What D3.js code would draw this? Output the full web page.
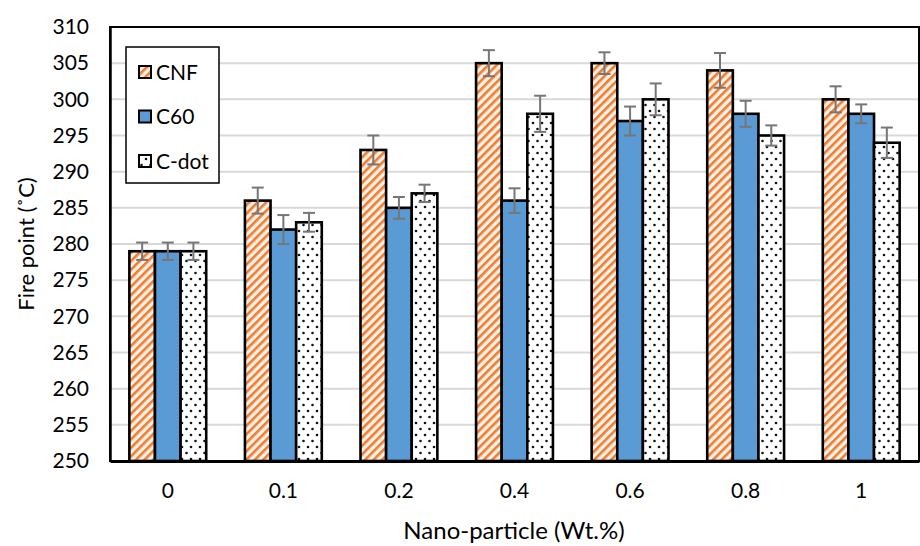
<!DOCTYPE html>
<html>
<head>
<meta charset="utf-8">
<script src="https://cdn.jsdelivr.net/npm/d3@7"></script>
<style>
  html, body { margin: 0; padding: 0; background: #fff; }
  svg { display: block; font-family: Lato, "Open Sans", sans-serif; }
</style>
</head>
<body>
<svg id="chart" width="920" height="546"></svg>
<script>
// Fire point of the base fluid with three nano-particle additives
const categories = ["0", "0.1", "0.2", "0.4", "0.6", "0.8", "1"];
const seriesNames = ["CNF", "C60", "C-dot"];
const cnfValues  = [279, 286, 293, 305, 305, 304, 300];
const c60Values  = [279, 282, 285, 286, 297, 298, 298];
const cdotValues = [279, 283, 287, 298, 300, 295, 294];
const cnfErrors  = [1.2, 1.8, 2.0, 1.8, 1.5, 2.4, 1.8];
const c60Errors  = [1.2, 2.0, 1.5, 1.7, 2.0, 1.8, 1.3];
const cdotErrors = [1.2, 1.3, 1.2, 2.5, 2.2, 1.4, 2.1];
const yTicks = [250, 255, 260, 265, 270, 275, 280, 285, 290, 295, 300, 305, 310];

const svg = d3.select("#chart");
const margin = { left: 110, right: 1, top: 27, bottom: 85 };
const W = 920, H = 546;
const x0 = d3.scaleBand().domain(categories).range([margin.left, W - margin.right]).paddingInner(0.335).paddingOuter(0.1675);
const x1 = d3.scaleBand().domain(seriesNames).range([0, x0.bandwidth()]);
const y = d3.scaleLinear().domain([250, 310]).range([H - margin.bottom, margin.top]);

// fill patterns
const defs = svg.append("defs");
const stripe = defs.append("pattern").attr("id", "stripes").attr("patternUnits", "userSpaceOnUse")
  .attr("width", 6).attr("height", 6).attr("patternTransform", "rotate(45)");
stripe.append("rect").attr("width", 6).attr("height", 6).attr("fill", "#fdf0e6");
stripe.append("rect").attr("width", 2.6).attr("height", 6).attr("fill", "#ed7d31");

const dots = defs.append("pattern").attr("id", "dots").attr("patternUnits", "userSpaceOnUse")
  .attr("width", 9).attr("height", 12);
dots.append("rect").attr("width", 9).attr("height", 12).attr("fill", "#fff");
dots.append("circle").attr("cx", 2).attr("cy", 3).attr("r", 1.3).attr("fill", "#111");
dots.append("circle").attr("cx", 6.5).attr("cy", 9).attr("r", 1.3).attr("fill", "#111");

const fills = { "CNF": "url(#stripes)", "C60": "#5b9bd5", "C-dot": "url(#dots)" };
const valuesBy = { "CNF": cnfValues, "C60": c60Values, "C-dot": cdotValues };
const errorsBy = { "CNF": cnfErrors, "C60": c60Errors, "C-dot": cdotErrors };

// gridlines
svg.append("g").selectAll("line").data(yTicks.filter(t => t > 250 && t < 310)).join("line")
  .attr("x1", margin.left).attr("x2", W - margin.right)
  .attr("y1", d => y(d)).attr("y2", d => y(d))
  .attr("stroke", "#d9d9d9").attr("stroke-width", 2);

// bars
const rows = [];
categories.forEach((c, i) => seriesNames.forEach(s => rows.push({ c, s, v: valuesBy[s][i], e: errorsBy[s][i] })));

svg.append("g").selectAll("rect").data(rows).join("rect")
  .attr("x", d => x0(d.c) + x1(d.s))
  .attr("y", d => y(d.v))
  .attr("width", x1.bandwidth())
  .attr("height", d => y(250) - y(d.v))
  .attr("fill", d => fills[d.s])
  .attr("stroke", "#000").attr("stroke-width", 2.6);

// error bars
const eb = svg.append("g").attr("stroke", "#767676").attr("stroke-width", 2);
rows.forEach(d => {
  const cx = x0(d.c) + x1(d.s) + x1.bandwidth() / 2;
  eb.append("line").attr("x1", cx).attr("x2", cx).attr("y1", y(d.v + d.e)).attr("y2", y(d.v - d.e));
  eb.append("line").attr("x1", cx - 6).attr("x2", cx + 6).attr("y1", y(d.v + d.e)).attr("y2", y(d.v + d.e));
  eb.append("line").attr("x1", cx - 6).attr("x2", cx + 6).attr("y1", y(d.v - d.e)).attr("y2", y(d.v - d.e));
});

// frame
svg.append("rect").attr("x", margin.left).attr("y", margin.top)
  .attr("width", W - margin.right - margin.left).attr("height", y(250) - margin.top)
  .attr("fill", "none").attr("stroke", "#000").attr("stroke-width", 2);

// axes
const yAxis = svg.append("g").attr("transform", `translate(${margin.left},0)`)
  .call(d3.axisLeft(y).tickValues(yTicks).tickSize(0).tickPadding(21));
yAxis.select(".domain").attr("stroke", "#000").attr("stroke-width", 2.5);
yAxis.selectAll("text").attr("font-size", 21).attr("fill", "#000").attr("font-family", "Lato");

const xAxis = svg.append("g").attr("transform", `translate(0,${y(250)})`)
  .call(d3.axisBottom(x0).tickSize(0).tickPadding(22));
xAxis.select(".domain").attr("stroke", "#000").attr("stroke-width", 3);
xAxis.selectAll("text").attr("font-size", 21).attr("fill", "#000").attr("font-family", "Lato");

// axis titles
svg.append("text").attr("x", 514).attr("y", 539)
  .attr("text-anchor", "middle").attr("font-size", 24).text("Nano-particle (Wt.%)");
svg.append("text").attr("transform", `translate(34,${(margin.top + y(250)) / 2}) rotate(-90)`)
  .attr("text-anchor", "middle").attr("font-size", 22).text("Fire point (˚C)");

// legend
const lg = svg.append("g");
lg.append("rect").attr("x", 126).attr("y", 47).attr("width", 93).attr("height", 136)
  .attr("fill", "#fff").attr("stroke", "#000").attr("stroke-width", 1.5);
seriesNames.forEach((s, i) => {
  const yy = 72 + i * 44.5;
  lg.append("rect").attr("x", 139).attr("y", yy - 6).attr("width", 12).attr("height", 12)
    .attr("fill", fills[s]).attr("stroke", "#000").attr("stroke-width", 2);
  lg.append("text").attr("x", 156).attr("y", yy + 7.5).attr("font-size", 21).text(s);
});
</script>
</body>
</html>
